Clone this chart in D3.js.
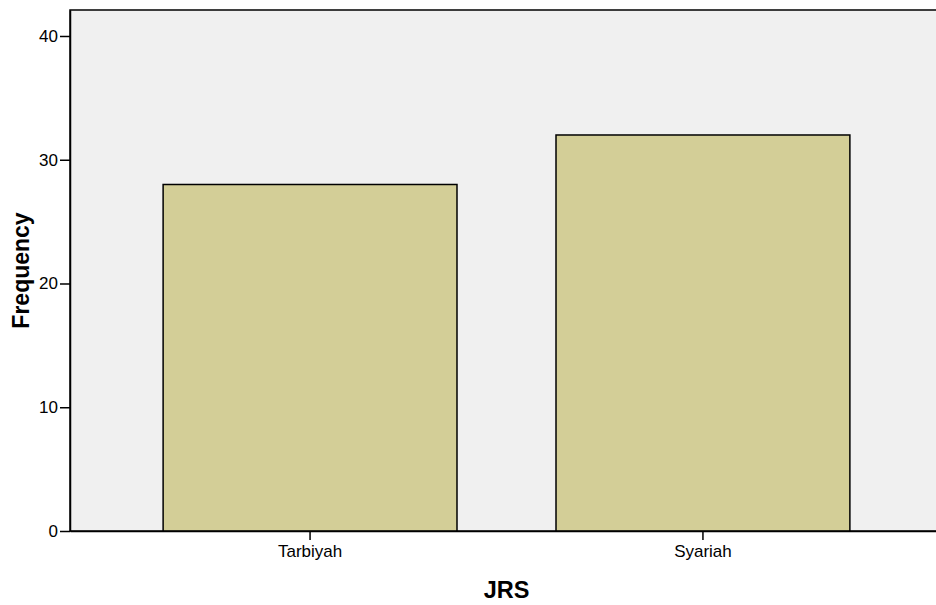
<!DOCTYPE html>
<html><head><meta charset="utf-8">
<script src="https://cdn.jsdelivr.net/npm/d3@7"></script>
<style>body{margin:0;background:#fff}svg{display:block}</style>
</head><body>
<svg id="c" width="936" height="605"></svg>
<script>
const categories = ["Tarbiyah", "Syariah"];
const frequencies = [28, 32];
const yTicks = [0, 10, 20, 30, 40];
const xTitle = "JRS";
const yTitle = "Frequency";

const svg = d3.select("#c");
const L = 70, T = 10, R = 943, B = 531;
const y = d3.scaleLinear().domain([0, 42.1]).range([B, T]);
const x = d3.scaleBand().domain(categories).range([L, R]).paddingInner(0.252).paddingOuter(0.237);

svg.append("rect").attr("x", L).attr("y", T).attr("width", R - L).attr("height", B - T)
  .attr("fill", "#f0f0f0").attr("stroke", "#000").attr("stroke-width", 1.5);

svg.selectAll(".bar").data(categories).enter().append("rect")
  .attr("x", d => x(d)).attr("width", x.bandwidth())
  .attr("y", (d, i) => y(frequencies[i])).attr("height", (d, i) => B - y(frequencies[i]))
  .attr("fill", "#d3ce97").attr("stroke", "#000").attr("stroke-width", 1.5);

const yAxis = svg.append("g").attr("transform", `translate(${L},0)`)
  .call(d3.axisLeft(y).tickValues(yTicks).tickSize(10).tickSizeOuter(0).tickPadding(2));
const xAxis = svg.append("g").attr("transform", `translate(0,${B})`)
  .call(d3.axisBottom(x).tickSize(9).tickSizeOuter(0).tickPadding(5));
[yAxis, xAxis].forEach(g => {
  g.attr("font-size", 17).attr("font-family", "Liberation Sans, Arial, sans-serif");
  g.select(".domain").attr("stroke", "#000").attr("stroke-width", 1.5);
  g.selectAll(".tick line").attr("stroke", "#000").attr("stroke-width", 1.5);
  g.selectAll("text").style("font-size", "17px")
    .style("font-family", "Liberation Sans, Arial, sans-serif").attr("fill", "#000");
});

svg.append("text").attr("x", (x("Tarbiyah") + x("Syariah") + x.bandwidth()) / 2).attr("y", 598)
  .attr("text-anchor", "middle").style("font-family", "Liberation Sans, Arial, sans-serif")
  .attr("font-weight", "bold").style("font-size", "23.5px").text(xTitle);
svg.append("text").attr("transform", `translate(29,${(T + B) / 2}) rotate(-90)`)
  .attr("text-anchor", "middle").style("font-family", "Liberation Sans, Arial, sans-serif")
  .attr("font-weight", "bold").style("font-size", "23px").text(yTitle);
</script>
</body></html>
